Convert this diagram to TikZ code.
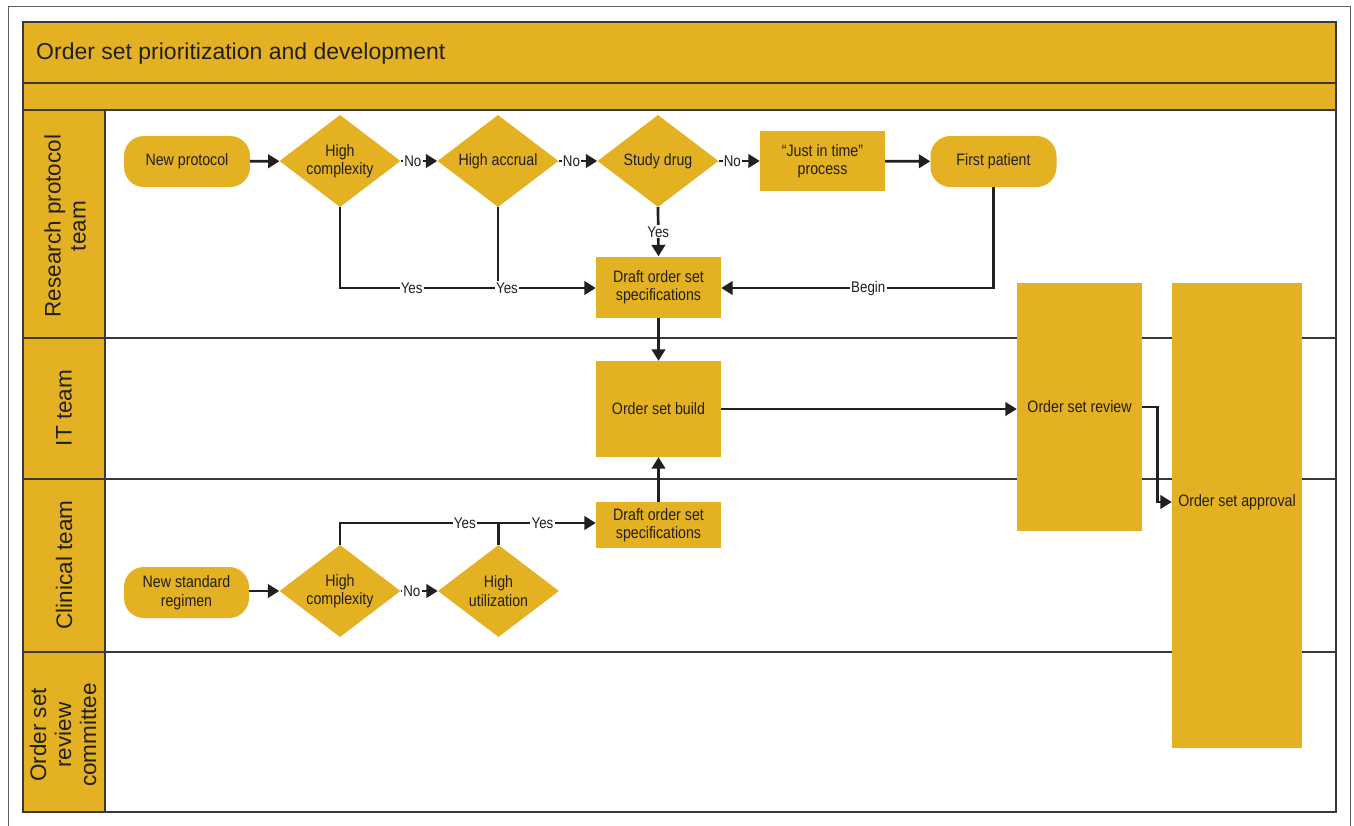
\documentclass[tikz,border=0pt]{standalone}
\usepackage{fontspec}
\setmainfont{Liberation Sans}
\newfontfamily\condf[FakeStretch=0.86]{Liberation Sans}
\usetikzlibrary{shapes.geometric,arrows.meta}
\definecolor{gold}{RGB}{227,177,34}
\definecolor{ink}{RGB}{35,31,32}
\definecolor{frame}{RGB}{58,56,56}
\tikzset{
  x=1pt,y=-1pt,
  every node/.style={inner sep=0pt, text=ink},
  base/.style={fill=gold, font=\condf\fontsize{16.5}{18.5}\selectfont, align=center},
  boxn/.style={base, rectangle, minimum width=125pt},
  pill/.style={base, rectangle, rounded corners=20pt, minimum width=126pt, minimum height=51pt},
  dia/.style={base, diamond, aspect=1.3, minimum width=121pt, minimum height=92pt},
  conn/.style={draw=ink, line width=2.7pt},
  arr/.style={conn, -{Triangle[length=11.5pt,width=13.5pt]}},
  lab/.style={fill=white, font=\condf\fontsize{15.5}{17}\selectfont, inner sep=1.2pt},
  lanelab/.style={font=\fontsize{22.5}{25}\selectfont, align=center, rotate=90},
  laneline/.style={draw=frame, line width=2pt}
}
\begin{document}
\begin{tikzpicture}
\useasboundingbox (0,0) rectangle (1354,825);
\fill[white] (0,0) rectangle (1354,825);
% outer thin frame
\draw[draw=frame!80, line width=1pt] (8.5,830) -- (8.5,6.5) -- (1350.5,6.5) -- (1350.5,830);
% gold header bands and lane label column
\fill[gold] (23,22) rectangle (1336,110);
\fill[gold] (23,110) rectangle (105,812);
% lane lines
\draw[laneline] (23,83) -- (1336,83);
\draw[laneline] (23,110) -- (1336,110);
\draw[laneline] (23,338) -- (1336,338);
\draw[laneline] (23,478.5) -- (1336,478.5);
\draw[laneline] (23,652) -- (1336,652);
\draw[laneline] (105,110) -- (105,812);
\draw[laneline] (23,22) rectangle (1336,812);
% title
\node[anchor=west, font=\fontsize{23}{26}\selectfont] (title) at (36,54) {Order set prioritization and development};
% lane labels
\node[lanelab] (lrp) at (65,226) {Research protocol\\team};
\node[lanelab] (lit) at (64,408) {IT team};
\node[lanelab] (lct) at (64,565) {Clinical team};
\node[lanelab] (lrc) at (63,735) {Order set\\review\\committee};

% research protocol lane
\node[pill] (np) at (187,161.5) {New protocol};
\node[dia] (hc1) at (340,161) {High\\complexity};
\node[dia] (ha) at (498,161) {High accrual};
\node[dia] (sd) at (658,161) {Study drug};
\node[boxn, minimum height=60pt] (jit) at (822.5,161) {“Just in time”\\process};
\node[pill] (fp) at (993.5,161.5) {First patient};
\node[boxn, minimum height=61pt] (d1) at (658.5,287) {Draft order set\\specifications};
% IT lane
\node[boxn, minimum height=96pt] (build) at (658.5,409) {Order set build};
\node[boxn, minimum height=248pt] (rev) at (1079.5,407) {Order set review};
\node[base, minimum width=130pt, minimum height=465pt] (appr) at (1237,515.5) {};
\node[font=\condf\fontsize{16.5}{18.5}\selectfont] (apptext) at (1237,502) {Order set approval};
% clinical lane
\node[pill, minimum width=125pt] (nsr) at (186.5,592.5) {New standard\\regimen};
\node[dia] (hc2) at (340,591) {High\\complexity};
\node[dia] (hu) at (498.5,591) {High\\utilization};
\node[boxn, minimum height=46pt] (d2) at (658.5,525) {Draft order set\\specifications};

% connectors top lane
\draw[arr] (np) -- (hc1);
\draw[arr] (hc1) -- (ha) node[lab, pos=0.33] {No};
\draw[arr] (ha) -- (sd) node[lab, pos=0.33] {No};
\draw[arr] (sd) -- (jit) node[lab, pos=0.33] {No};
\draw[arr] (jit) -- (fp);
\draw[arr] (hc1.south) |- (d1.west |- 0,288) node[lab, pos=0.64] {Yes};
\draw[conn] (ha.south) -- (ha.south |- 0,288) node[lab, xshift=9pt] {Yes};
\draw[arr] (sd.south) -- (d1.north) node[lab, midway] {Yes};
\draw[arr] (fp.south) |- (d1.east |- 0,288) node[lab, pos=0.73] {Begin};
\draw[arr] (d1.south) -- (build.north);
\draw[arr] (build.east) -- (build.east -| rev.west);
\draw[arr] (rev.east) -- ++(15,0) |- (appr.west |- apptext);
% connectors clinical lane
\draw[arr] (nsr.east |- hc2) -- (hc2);
\draw[arr] (hc2) -- (hu) node[lab, pos=0.3] {No};
\draw[arr] (hc2.north) |- (d2.west |- 0,523) node[lab, pos=0.744] {Yes};
\draw[conn] (hu.north) -- (hu.north |- 0,523) node[lab, xshift=44pt] {Yes};
\draw[arr] (d2.north) -- (build.south);
\end{tikzpicture}
\end{document}
